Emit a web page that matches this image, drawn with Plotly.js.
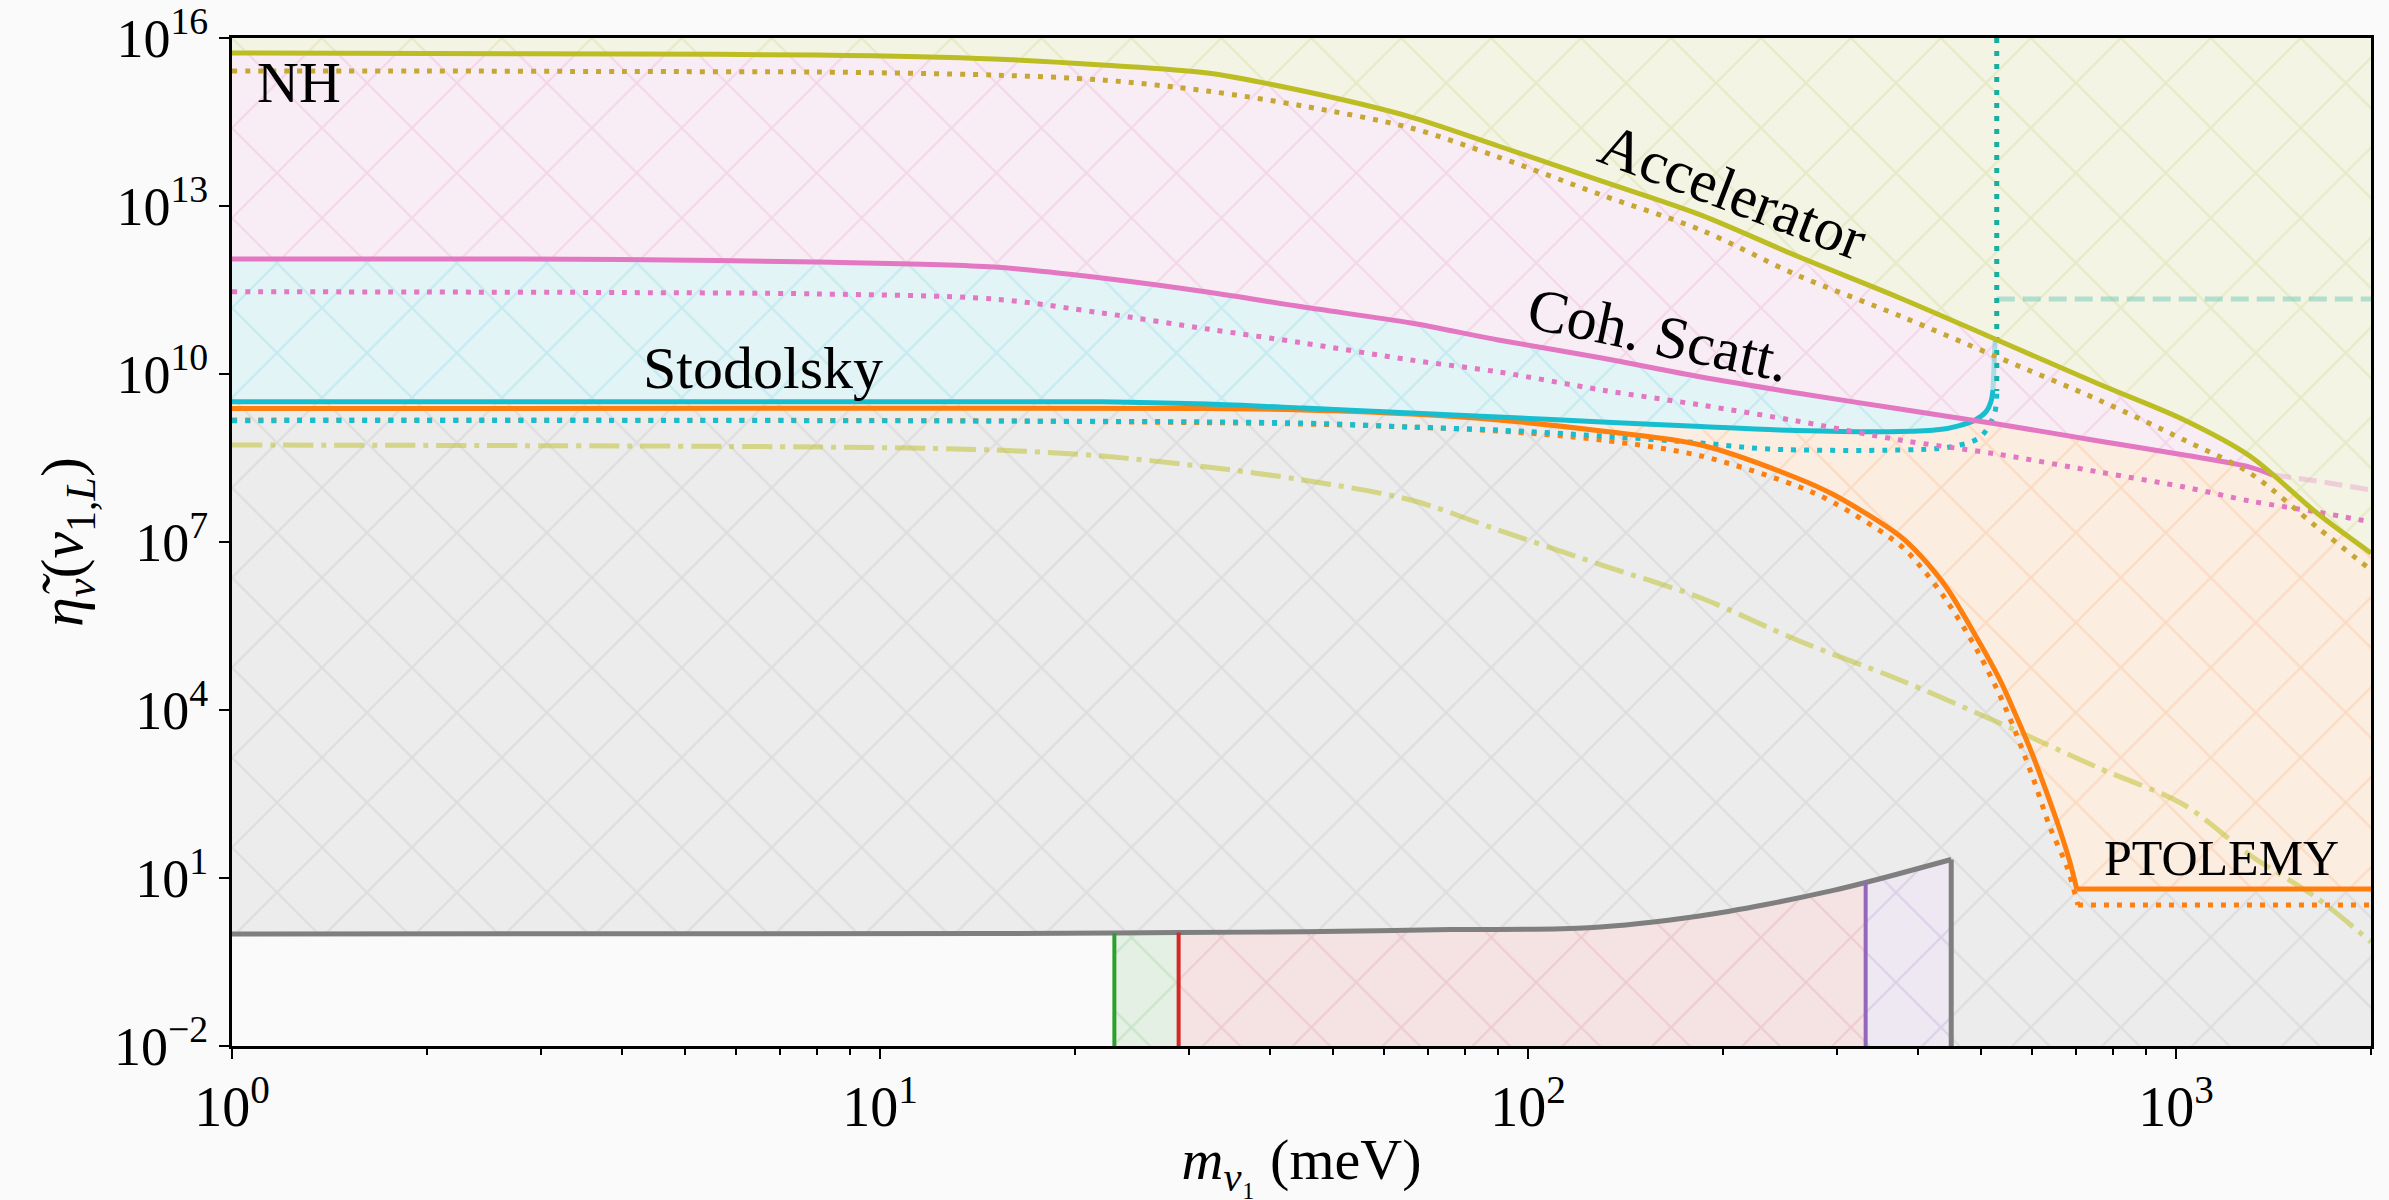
<!DOCTYPE html>
<html><head><meta charset="utf-8">
<script src="https://cdn.plot.ly/plotly-3.0.1.min.js"></script>
<style>html,body{margin:0;padding:0;background:#fafafa;} #plot{width:2389px;height:1200px;}</style>
</head><body><div id="plot"></div>
<script>
// ---------- data (m in meV, eta values) ----------
const accM  = [1,2,4,8,15,22,32,45,66,90,130,185,260,375,530,760,1030,1300,1650,2000];
const accNH = [5.4e15,5.28e15,5.18e15,4.97e15,4.22e15,3.3e15,2.37e15,1.13e15,3.88e14,1.18e14,2.79e13,6.9e12,1.28e12,2.28e11,4.05e10,6.62e9,1.51e9,3.44e8,3.3e7,6.37e6];
const accIH = [2.58e15,2.58e15,2.52e15,2.47e15,2.18e15,1.78e15,1.13e15,6.1e14,2.47e14,7.5e13,1.57e13,3.72e12,5.86e11,1.09e11,2.01e10,3.44e9,6.62e8,1.71e8,1.85e7,3.16e6];

const cohM  = [1,2,4,8,15,22,32,45,66,90,130,185,260,375,530,760,1030,1300,1412];
const cohNH = [1.13e12,1.13e12,1.11e12,1.0e12,8.15e11,5.18e11,2.91e11,1.57e11,8.15e10,4.05e10,1.93e10,8.83e9,4.58e9,2.37e9,1.28e9,6.37e8,3.58e8,2.18e8,1.57e8];
const cohExtM  = [1412,1650,2000];
const cohExtNH = [1.57e8,1.23e8,8.5e7];
const cohIH = [2.95e11,2.91e11,2.85e11,2.69e11,2.18e11,1.23e11,6.37e10,3.58e10,1.78e10,1.09e10,5.18e9,2.79e9,1.45e9,6.62e8,3.72e8,1.78e8,9.6e7,5.4e7,3.44e7,2.28e7];

const stoM  = [1,2,4,8,15,22,32,45,66,90,130,185,260,375,432,462,490,509,518,522];
const stoNH = [3.2e9,3.2e9,3.2e9,3.19e9,3.19e9,3.19e9,2.91e9,2.47e9,2.01e9,1.71e9,1.39e9,1.15e9,9.8e8,9.4e8,1.02e9,1.19e9,1.51e9,2.1e9,3.16e9,5.18e9];
const stoExtM  = [522,526];
const stoExtNH = [5.18e9,4.0e10];
const stoIHM = [1,15,45,66,90,130,185,235,375,448,499,525,529];
const stoIH  = [1.47e9,1.45e9,1.33e9,1.13e9,1e9,7.8e8,5.86e8,4.58e8,4.4e8,4.97e8,7.5e8,2.01e9,5.0e9];
const tealM   = [529,529];
const tealEta = [1e16,5.0e9];
const tealDashM   = [529,2000];
const tealDashEta = [2.19e11,2.19e11];

const ptoM  = [1,15,32,45,66,90,130,185,260,297,375,404,442,495,535,566,601,632,662,686,703,2000];
const ptoNH = [2.42e9,2.45e9,2.42e9,2.28e9,1.93e9,1.51e9,9.6e8,5.4e8,1.39e8,6.9e7,1.28e7,5.62e6,1.57e6,1.78e5,3.44e4,8.15e3,1.57e3,330,72,19.3,6.37,6.37];
const ptoIHM = [1,15,45,66,90,130,185,260,297,375,404,442,495,545,601,639,679,706,2000];
const ptoIH  = [1.51e9,1.45e9,1.28e9,1.13e9,9.6e8,6.62e8,3.44e8,1.0e8,4.97e7,8.83e6,3.58e6,9.2e5,1.09e5,1.13e4,637,81.5,15.7,3.3,3.3];

const ddM   = [1,8,15,22,32,45,66,90,130,185,260,375,530,760,1030,1300,1650,2000];
const ddEta = [5.4e8,4.97e8,4.4e8,3.44e8,2.18e8,1.28e8,5.62e7,1.64e7,3.88e6,1.0e6,1.78e5,3.44e4,6.1e3,921,201,25.8,4.4,0.72];

const grayM   = [1,15,23,28.9,45,76,124,184,234,296,332,450];
const grayEta = [1.0,1.02,1.04,1.06,1.1,1.2,1.29,2.1,3.4,6.0,8.3,21.4];

const xTickVals = [1,10,100,1000];
const xTickText = ['10<sup>0</sup>','10<sup>1</sup>','10<sup>2</sup>','10<sup>3</sup>'];
const xMinor = [2,3,4,5,6,7,8,9,20,30,40,50,60,70,80,90,200,300,400,500,600,700,800,900,2000];
const yTickVals = [1e-2,1e1,1e4,1e7,1e10,1e13,1e16];
const yTickText = ['10<sup>−2</sup>','10<sup>1</sup>','10<sup>4</sup>','10<sup>7</sup>','10<sup>10</sup>','10<sup>13</sup>','10<sup>16</sup>'];

// ---------- helpers ----------
const X0 = 1, X1 = 2000, YB = 1e-2, YT = 1e16;
const rev = a => a.slice().reverse();
const idx = (arr, v) => arr.indexOf(v);
function pat(bg, fg){ return {shape:'x', size:63.6, solidity:0.065, bgcolor:bg, fgcolor:fg, fgopacity:1}; }
function region(x, y, bg, fg){
  return {x:x, y:y, type:'scatter', mode:'none', fill:'toself', fillcolor:bg, fillpattern:pat(bg,fg), hoverinfo:'skip'};
}
function line(x, y, color, width, dash, smooth){
  return {x:x, y:y, type:'scatter', mode:'lines', line:{color:color, width:width, dash:dash||'solid', shape:smooth?'spline':'linear', smoothing:0.9}, hoverinfo:'skip'};
}
const DOT = '5px,8px';
const LW = 5;

// ---------- regions ----------
const traces = [];
traces.push(region([X0,X1].concat(rev(accM)), [YT,YT].concat(rev(accNH)), '#f3f4e3', '#e7eac6'));
const i1300 = idx(accM,1300);
traces.push(region(accM.slice(0,i1300+1).concat(rev(cohM)), accNH.slice(0,i1300+1).concat(rev(cohNH)), '#f9edf5', '#f3d7e9'));
const c375 = idx(cohM,375), s490 = idx(stoM,490);
traces.push(region(cohM.slice(0,c375+1).concat(rev(stoM.slice(0,s490+1))), cohNH.slice(0,c375+1).concat(rev(stoNH.slice(0,s490+1))), '#e2f4f6', '#c4eaf0'));
const c530 = idx(cohM,530), a1650 = idx(accM,1650);
traces.push(region(
  stoM.slice(0,s490+1).concat(cohM.slice(c530), accM.slice(a1650), rev(ptoM)),
  stoNH.slice(0,s490+1).concat(cohNH.slice(c530), accNH.slice(a1650), rev(ptoNH)),
  '#fcede1', '#fbdac0'));
traces.push(region(ptoM.concat([X1, grayM[grayM.length-1]], rev(grayM)), ptoNH.concat([YB, YB], rev(grayEta)), '#ececec', '#dddddd'));
const gG = idx(grayM,23), gR = idx(grayM,28.9), gP = idx(grayM,332), gE = grayM.length-1;
traces.push(region([grayM[gG],grayM[gR],grayM[gR],grayM[gG]], [YB,YB,grayEta[gR],grayEta[gG]], '#e3f0e3', '#c9e4c9'));
traces.push(region([grayM[gR],grayM[gP]].concat(rev(grayM.slice(gR,gP+1))), [YB,YB].concat(rev(grayEta.slice(gR,gP+1))), '#f5e3e4', '#eecbd0'));
traces.push(region([grayM[gP],grayM[gE],grayM[gE],grayM[gP]], [YB,YB,grayEta[gE],grayEta[gP]], '#eee8f3', '#dbd1e8'));

// ---------- lines ----------
const pC = idx(ptoM,703), pIC = idx(ptoIHM,706);
traces.push(line(ddM, ddEta, 'rgba(188,189,34,0.5)', LW, '30px,8px,5px,8px', true));
traces.push(line(tealDashM, tealDashEta, 'rgba(26,176,160,0.3)', LW, '18px,8px'));
traces.push(line(cohExtM, cohExtNH, 'rgba(227,119,194,0.3)', LW, '18px,8px'));
traces.push(line(grayM, grayEta, '#7f7f7f', LW, 'solid', true));
traces.push(line([grayM[gE],grayM[gE]], [grayEta[gE],YB], '#7f7f7f', LW));
traces.push(line([grayM[gG],grayM[gG]], [YB,grayEta[gG]], '#2ca02c', 4));
traces.push(line([grayM[gR],grayM[gR]], [YB,grayEta[gR]], '#d62728', 4));
traces.push(line([grayM[gP],grayM[gP]], [YB,grayEta[gP]], '#9467bd', 4));
traces.push(line(ptoIHM.slice(0,pIC+1), ptoIH.slice(0,pIC+1), '#ff7f0e', LW, DOT, true));
traces.push(line(ptoIHM.slice(pIC), ptoIH.slice(pIC), '#ff7f0e', LW, DOT));
traces.push(line(stoIHM, stoIH, '#17becf', LW, DOT, true));
traces.push(line(tealM, tealEta, '#1aae9f', LW, DOT));
traces.push(line(ptoM.slice(0,pC+1), ptoNH.slice(0,pC+1), '#ff7f0e', LW, 'solid', true));
traces.push(line(ptoM.slice(pC), ptoNH.slice(pC), '#ff7f0e', LW));
traces.push(line(stoExtM, stoExtNH, 'rgba(23,190,207,0.35)', LW));
traces.push(line(stoM, stoNH, '#17becf', LW, 'solid', true));
traces.push(line(accM, cohIH, '#e377c2', LW, DOT, true));
traces.push(line(cohM, cohNH, '#e377c2', LW, 'solid', true));
traces.push(line(accM, accIH, '#c7a733', LW, DOT, true));
traces.push(line(accM, accNH, '#bcbd22', LW, 'solid', true));

const FONT = 'Liberation Serif, DejaVu Serif, serif';
const ann = (text, x, y, ang, size) => ({text:text, x:x, y:y, xref:'paper', yref:'paper', showarrow:false, textangle:ang||0, xanchor:'center', yanchor:'middle', font:{family:FONT, size:size||58, color:'#000'}});

const layout = {
  width:2389, height:1200,
  margin:{l:232, r:18, t:38, b:154},
  paper_bgcolor:'#fafafa', plot_bgcolor:'#fafafa',
  showlegend:false,
  font:{family:FONT, size:56, color:'#000'},
  xaxis:{type:'log', range:[0, Math.log10(X1)], tickmode:'array', tickvals:xTickVals, ticktext:xTickText,
    ticks:'outside', ticklen:10, tickwidth:2.5, tickcolor:'#000', showline:true, linewidth:3, linecolor:'#000', mirror:true,
    showgrid:false, zeroline:false, tickfont:{family:FONT, size:56}, ticklabeloverflow:'allow',
    minor:{tickmode:'array', tickvals:xMinor, ticks:'outside', ticklen:6, tickwidth:2, tickcolor:'#000', showgrid:false},
    title:{text:'<i>m</i><sub><i>ν</i>₁</sub> (meV)', font:{family:FONT, size:58}, standoff:16}},
  yaxis:{type:'log', range:[-2, 16.0005], tickmode:'array', tickvals:yTickVals, ticktext:yTickText,
    ticks:'outside', ticklen:10, tickwidth:2.5, tickcolor:'#000', showline:true, linewidth:3, linecolor:'#000', mirror:true,
    showgrid:false, zeroline:false, tickfont:{family:FONT, size:54}, ticklabeloverflow:'allow',
    title:{text:'<i>η̃</i><sub><i>ν</i></sub>(<i>ν</i><sub>1,<i>L</i></sub>)', font:{family:FONT, size:60}, standoff:12}},
  annotations:[
    ann('NH', 0.0313, 0.9563, 0, 58),
    ann('Accelerator', 0.7017, 0.8472, 21, 60),
    ann('Coh. Scatt.', 0.6671, 0.7054, 12, 60),
    ann('Stodolsky', 0.2482, 0.6726, 0, 60),
    ann('PTOLEMY', 0.9303, 0.1865, 0, 50)
  ]
};
Plotly.newPlot('plot', traces, layout, {staticPlot:true, displayModeBar:false});
</script></body></html>
